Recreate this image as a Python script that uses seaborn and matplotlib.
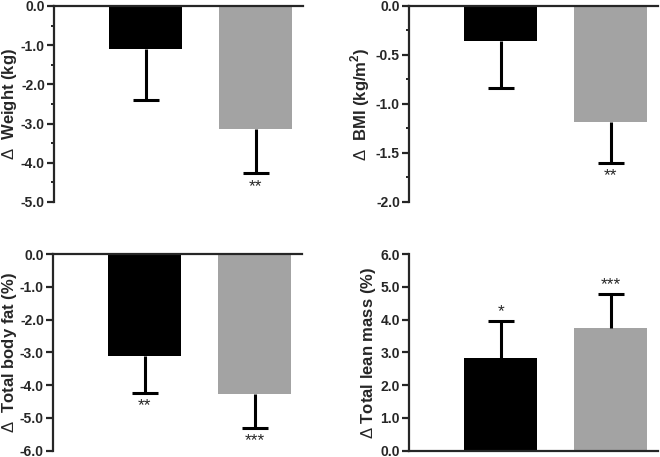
import matplotlib
matplotlib.use("Agg")
from matplotlib import pyplot as plt
from matplotlib.ticker import MultipleLocator, FormatStrFormatter
import numpy as np
import seaborn as sns

groups = ["Group 1", "Group 2"]
bar_colors = ["#000000", "#a3a3a3"]

weight_mean = [-1.10, -3.13]
weight_sem = [1.31, 1.14]
weight_stars = ["", "**"]

bmi_mean = [-0.36, -1.18]
bmi_sem = [0.48, 0.42]
bmi_stars = ["", "**"]

fat_mean = [-3.11, -4.27]
fat_sem = [1.12, 1.03]
fat_stars = ["**", "***"]

lean_mean = [2.82, 3.75]
lean_sem = [1.15, 1.04]
lean_stars = ["*", "***"]

sns.set_style("ticks")
plt.rcParams["font.family"] = ["Liberation Sans", "DejaVu Sans"]
plt.rcParams["axes.unicode_minus"] = False
plt.rcParams["axes.linewidth"] = 1.6
plt.rcParams["mathtext.fontset"] = "custom"
plt.rcParams["mathtext.rm"] = "Liberation Sans"
plt.rcParams["mathtext.bf"] = "Liberation Sans:bold"


def panel(ax, means, sems, stars, label, ylim, major, minor=None, label_x=-0.15):
    sns.barplot(x=groups, y=means, hue=groups, palette=bar_colors, legend=False,
                width=0.664, errorbar=None, saturation=1, linewidth=0, ax=ax)
    negative = means[0] < 0
    zeros = [0] * len(sems)
    yerr = [sems, zeros] if negative else [zeros, sems]
    eb = ax.errorbar(x=range(len(means)), y=means, yerr=yerr, fmt="none",
                     ecolor="black", elinewidth=2.2, capsize=9.7, capthick=2.2,
                     zorder=3)
    # drop the caps sitting on the bar ends, keep only the outer ones
    for cap in eb[1]:
        if np.allclose(cap.get_ydata(), means):
            cap.set_visible(False)
    for i, (m, s, st) in enumerate(zip(means, sems, stars)):
        if not st:
            continue
        if negative:
            ax.annotate(st, (i, m - s), xytext=(0, -4), textcoords="offset points",
                        ha="center", va="top", fontsize=12.5)
        else:
            ax.annotate(st, (i, m + s), xytext=(0, 1), textcoords="offset points",
                        ha="center", va="bottom", fontsize=12.5)
    ax.set_xlim(-0.836, 1.427)
    ax.set_ylim(*ylim)
    ax.yaxis.set_major_locator(MultipleLocator(major))
    ax.yaxis.set_major_formatter(FormatStrFormatter("%.1f"))
    if minor:
        ax.yaxis.set_minor_locator(MultipleLocator(minor))
    ax.tick_params(axis="y", which="major", length=5, width=1.6, pad=1.5,
                   labelsize=10)
    ax.tick_params(axis="y", which="minor", length=2.5, width=1.4)
    for lab in ax.get_yticklabels():
        lab.set_fontweight("bold")
    ax.set_xticks([])
    ax.set_xlabel("")
    ax.set_ylabel(label, fontsize=12, fontweight="bold")
    ax.yaxis.set_label_coords(label_x, 0.5)
    ax.spines["right"].set_visible(False)
    if negative:
        ax.spines["bottom"].set_visible(False)
        ax.spines["top"].set_visible(True)
    else:
        ax.spines["top"].set_visible(False)


fig = plt.figure(figsize=(6.6, 4.57), dpi=100)
ax1 = fig.add_axes([0.0818, 0.558, 0.377, 0.429])
ax2 = fig.add_axes([0.6197, 0.558, 0.377, 0.429])
ax3 = fig.add_axes([0.0803, 0.0138, 0.377, 0.430])
ax4 = fig.add_axes([0.6197, 0.0138, 0.377, 0.430])

panel(ax1, weight_mean, weight_sem, weight_stars, r"$\Delta$  Weight (kg)",
      (-5, 0), 1.0, 0.5, label_x=-0.141)
panel(ax2, bmi_mean, bmi_sem, bmi_stars, r"$\Delta$  BMI (kg/m$^{\mathbf{2}}$)",
      (-2, 0), 0.5, 0.25, label_x=-0.147)
panel(ax3, fat_mean, fat_sem, fat_stars, r"$\Delta$  Total body fat (%)",
      (-6, 0), 1.0, label_x=-0.136)
panel(ax4, lean_mean, lean_sem, lean_stars, r"$\Delta$ Total lean mass (%)",
      (0, 6), 1.0, label_x=-0.124)

fig.savefig("out.png", dpi=100)
